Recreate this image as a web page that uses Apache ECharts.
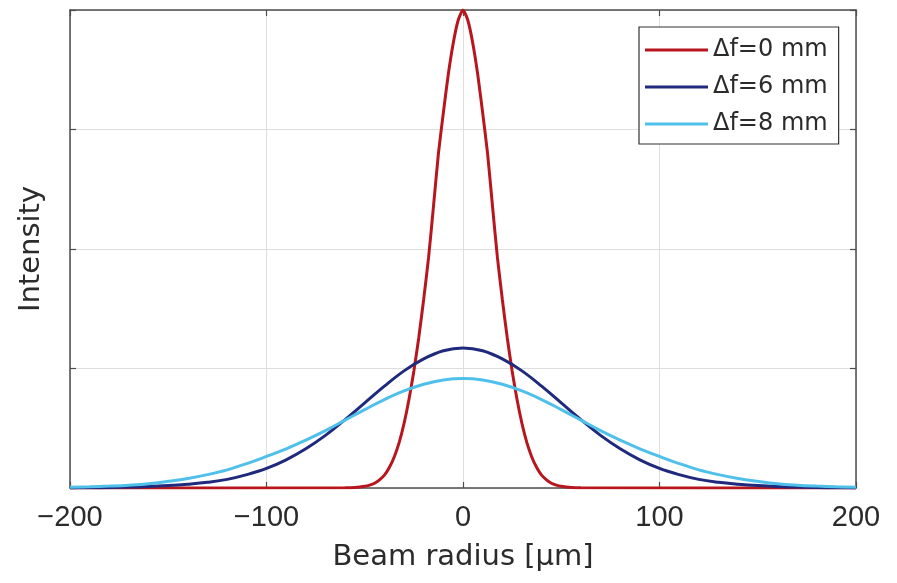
<!DOCTYPE html>
<html>
<head>
<meta charset="utf-8">
<script src="https://cdn.jsdelivr.net/npm/echarts@6/dist/echarts.min.js"></script>
<style>
html,body{margin:0;padding:0;background:#fff;}
#chart{width:897px;height:583px;}
</style>
</head>
<body>
<div id="chart"></div>
<script>
// Beam radius (µm) sample positions
const radiusRed = [-200, -60, -55, -50, -47.5, -45, -42.5, -40, -37.5, -35, -32.5, -30, -27.5, -25, -22.5, -20, -17.5, -15, -12.5, -10, -7.5, -5, -2.5, 0, 2.5, 5, 7.5, 10, 12.5, 15, 17.5, 20, 22.5, 25, 27.5, 30, 32.5, 35, 37.5, 40, 42.5, 45, 47.5, 50, 55, 60, 200];
const intensityDf0 = [0, 0.0003, 0.001, 0.0035, 0.006, 0.010, 0.017, 0.027, 0.043, 0.065, 0.095, 0.135, 0.185, 0.245, 0.315, 0.395, 0.483, 0.590, 0.700, 0.785, 0.865, 0.930, 0.978, 1.0, 0.978, 0.930, 0.865, 0.785, 0.700, 0.590, 0.483, 0.395, 0.315, 0.245, 0.185, 0.135, 0.095, 0.065, 0.043, 0.027, 0.017, 0.010, 0.006, 0.0035, 0.001, 0.0003, 0];

const radiusWide = [-200, -190, -180, -170, -160, -150, -140, -130, -120, -110, -100, -90, -80, -70, -60, -50, -40, -30, -20, -10, 0, 10, 20, 30, 40, 50, 60, 70, 80, 90, 100, 110, 120, 130, 140, 150, 160, 170, 180, 190, 200];
const intensityDf6 = [0.0002, 0.0005, 0.001, 0.002, 0.003, 0.005, 0.008, 0.012, 0.018, 0.028, 0.041, 0.059, 0.082, 0.110, 0.143, 0.178, 0.213, 0.245, 0.270, 0.287, 0.293, 0.287, 0.270, 0.245, 0.213, 0.178, 0.143, 0.110, 0.082, 0.059, 0.041, 0.028, 0.018, 0.012, 0.008, 0.005, 0.003, 0.002, 0.001, 0.0005, 0.0002];
const intensityDf8 = [0.0015, 0.0025, 0.004, 0.006, 0.009, 0.014, 0.020, 0.028, 0.038, 0.051, 0.066, 0.082, 0.100, 0.120, 0.142, 0.164, 0.185, 0.203, 0.217, 0.226, 0.229, 0.226, 0.217, 0.203, 0.185, 0.164, 0.142, 0.120, 0.100, 0.082, 0.066, 0.051, 0.038, 0.028, 0.020, 0.014, 0.009, 0.006, 0.004, 0.0025, 0.0015];

const seriesNames = ['\u0394f=0 mm', '\u0394f=6 mm', '\u0394f=8 mm'];

function pairs(xs, ys) { return xs.map((x, i) => [x, ys[i]]); }

const axisColor = '#4d4d4d';
const textColor = '#2b2b2b';
const chart = echarts.init(document.getElementById('chart'), null, {renderer: 'canvas'});

const hiddenAxisCommon = {
  axisLine: {show: true, onZero: false, lineStyle: {color: axisColor, width: 1.5}},
  axisTick: {show: true, inside: true, length: 6, lineStyle: {color: axisColor, width: 1.2}},
  axisLabel: {show: false},
  splitLine: {show: false}
};

chart.setOption({
  animation: false,
  backgroundColor: '#fff',
  grid: {left: 70, right: 41, top: 10, bottom: 95},
  legend: {
    orient: 'vertical',
    left: 639, top: 27,
    data: seriesNames,
    icon: 'rect',
    itemWidth: 63, itemHeight: 3,
    itemGap: 11,
    padding: [10, 11, 7, 6],
    backgroundColor: '#fff',
    borderColor: '#333',
    borderWidth: 1.2,
    textStyle: {fontFamily: 'DejaVu Sans', fontSize: 24, lineHeight: 26, color: textColor}
  },
  xAxis: [{
    type: 'value', min: -200, max: 200, interval: 100,
    name: 'Beam radius [\u03bcm]', nameLocation: 'middle', nameGap: 55,
    nameTextStyle: {fontFamily: 'DejaVu Sans', fontSize: 29, color: textColor},
    axisLine: {show: true, onZero: false, lineStyle: {color: axisColor, width: 1.5}},
    axisTick: {show: true, inside: true, length: 6, lineStyle: {color: axisColor, width: 1.2}},
    axisLabel: {fontFamily: 'Liberation Sans', fontSize: 29, color: textColor, margin: 15,
      formatter: v => String(v).replace('-', '\u2212')},
    splitLine: {show: true, lineStyle: {color: '#dedede', width: 1}}
  }, Object.assign({type: 'value', min: -200, max: 200, interval: 100, position: 'top'}, hiddenAxisCommon)],
  yAxis: [{
    type: 'value', min: 0, max: 1, interval: 0.25,
    name: 'Intensity', nameLocation: 'middle', nameGap: 24,
    nameTextStyle: {fontFamily: 'DejaVu Sans', fontSize: 29, color: textColor},
    axisLine: {show: true, onZero: false, lineStyle: {color: axisColor, width: 1.5}},
    axisTick: {show: true, inside: true, length: 6, lineStyle: {color: axisColor, width: 1.2}},
    axisLabel: {show: false},
    splitLine: {show: true, lineStyle: {color: '#dedede', width: 1}}
  }, Object.assign({type: 'value', min: 0, max: 1, interval: 0.25, position: 'right'}, hiddenAxisCommon)],
  series: [
    {name: seriesNames[0], type: 'line', data: pairs(radiusRed, intensityDf0), symbol: 'none',
      smooth: 0.2, lineStyle: {color: '#b8161f', width: 3}, itemStyle: {color: '#b8161f'}, z: 2},
    {name: seriesNames[1], type: 'line', data: pairs(radiusWide, intensityDf6), symbol: 'none',
      smooth: 0.4, lineStyle: {color: '#1f2a7c', width: 3}, itemStyle: {color: '#1f2a7c'}, z: 3},
    {name: seriesNames[2], type: 'line', data: pairs(radiusWide, intensityDf8), symbol: 'none',
      smooth: 0.4, lineStyle: {color: '#4fc0ea', width: 3}, itemStyle: {color: '#4fc0ea'}, z: 4}
  ]
});
</script>
</body>
</html>
